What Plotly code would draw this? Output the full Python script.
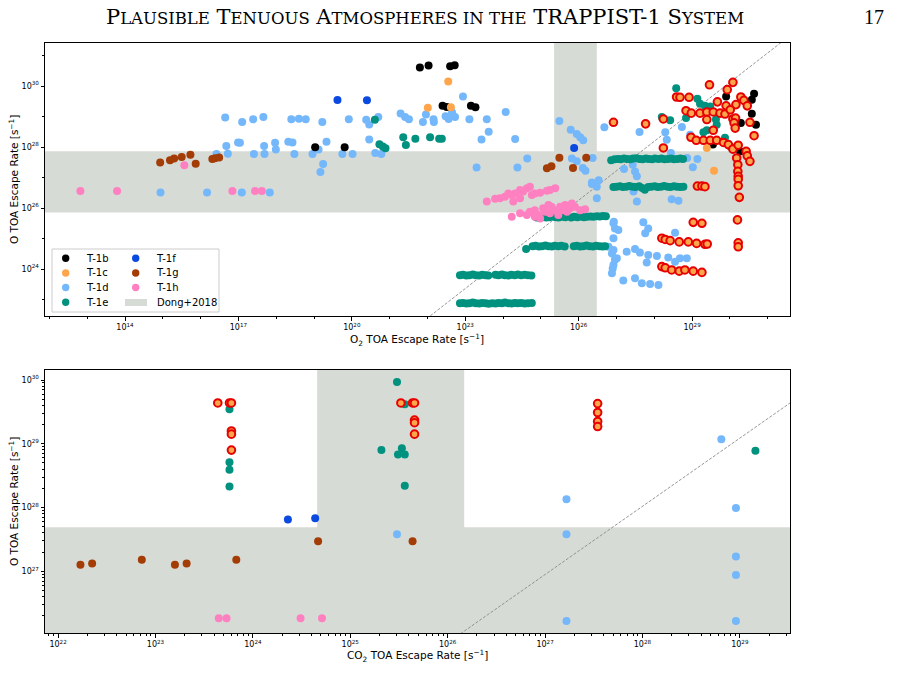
import numpy as np
import plotly.graph_objects as go

W, H = 906, 697

# ---------------- DATA (log10 of escape rates) ----------------
# Top panel: (log10 O2 TOA escape rate, log10 O TOA escape rate)
T1B_TOP = [(21.80, 30.61), (22.03, 30.67), (22.60, 30.65), (22.72, 30.68), (22.40, 29.35),
           (22.51, 29.31), (23.15, 29.35), (23.27, 29.30), (19.03, 27.99), (19.81, 27.99),
           (30.64, 29.75), (30.58, 29.55), (29.90, 29.66), (30.58, 29.09), (30.69, 28.73),
           (30.29, 28.79), (29.55, 28.08), (30.27, 27.86)]
T1C_TOP = [(22.01, 29.29), (22.55, 30.15), (22.62, 29.30), (29.39, 27.97), (29.58, 27.22)]
T1F_TOP = [(19.62, 29.54), (20.40, 29.53), (25.88, 27.97)]
T1G_TOP = [(14.93, 27.49), (15.19, 27.57), (15.30, 27.62), (15.50, 27.67), (15.73, 27.75),
           (15.87, 27.45), (16.31, 27.61), (16.38, 27.63), (16.49, 27.66), (25.49, 27.65),
           (25.16, 27.30), (25.28, 27.37), (25.85, 27.31), (26.20, 27.65)]
T1H_TOP = [(15.57, 27.40), (12.82, 26.56), (13.79, 26.56), (16.84, 26.56), (17.44, 26.56), (17.62, 26.56)]
T1H_TOP_UPPER = [(23.57, 26.21), (23.79, 26.30), (24.05, 26.37), (24.23, 26.43), (24.32, 26.48),
                 (24.45, 26.59), (24.63, 26.65), (24.71, 26.70), (24.27, 26.21), (24.45, 26.32),
                 (24.76, 26.43), (24.98, 26.50), (25.16, 26.57), (25.38, 26.65), (23.92, 26.32),
                 (24.14, 26.48), (24.53, 26.54), (24.84, 26.48), (25.24, 26.59)]
T1H_TOP_LOWER = [(24.23, 25.71), (24.45, 25.83), (24.71, 25.88), (24.84, 25.93), (24.93, 25.77),
                 (25.06, 25.99), (25.20, 26.10), (25.38, 25.93), (25.51, 26.04), (25.64, 26.10),
                 (25.82, 26.15), (25.90, 26.04), (26.04, 25.93), (26.17, 25.96), (25.24, 25.83),
                 (25.46, 25.77), (25.69, 25.88), (24.98, 25.66), (24.63, 25.77), (25.11, 25.88),
                 (25.55, 25.93), (25.77, 25.99), (25.28, 26.04), (24.84, 25.71)]
T1E_TOP = [(20.61, 28.89), (20.73, 28.09), (20.82, 28.02), (20.89, 27.96), (21.36, 28.32),
           (21.43, 28.07), (21.68, 28.27), (22.07, 28.32), (22.31, 28.27), (22.38, 28.27),
           (28.58, 29.93), (29.14, 29.58), (29.21, 29.42), (29.34, 29.35), (29.48, 29.33),
           (28.20, 28.98), (28.42, 28.88), (28.84, 28.95), (29.63, 28.90), (29.65, 28.73),
           (29.30, 28.48), (29.39, 28.55), (29.87, 28.30), (30.01, 28.02)]
T1E_TOP_ROW_A = [(26.86, 27.57), (26.95, 27.60), (27.04, 27.61), (27.11, 27.60), (27.20, 27.62),
                 (27.28, 27.61), (27.37, 27.60), (27.44, 27.62), (27.53, 27.63), (27.61, 27.61),
                 (27.69, 27.60), (27.78, 27.62), (27.85, 27.61), (27.94, 27.60), (28.02, 27.62),
                 (28.11, 27.61), (28.19, 27.62), (28.27, 27.60), (28.36, 27.61), (28.44, 27.62),
                 (28.52, 27.60), (28.61, 27.61), (28.69, 27.62), (28.76, 27.61)]
T1E_TOP_ROW_B = [(26.92, 26.69), (27.00, 26.70), (27.09, 26.71), (27.17, 26.69), (27.26, 26.70),
                 (27.34, 26.72), (27.43, 26.70), (27.51, 26.69), (27.60, 26.71), (27.68, 26.66),
                 (27.75, 26.60), (27.84, 26.69), (27.92, 26.70), (28.01, 26.71), (28.09, 26.69),
                 (28.18, 26.70), (28.26, 26.72), (28.35, 26.70), (28.43, 26.69), (28.52, 26.71),
                 (28.60, 26.70), (28.69, 26.69), (28.77, 26.70)]
T1E_TOP_ROW_C = [(24.89, 25.69), (24.97, 25.70), (25.05, 25.71), (25.14, 25.69), (25.22, 25.70),
                 (25.31, 25.72), (25.39, 25.70), (25.47, 25.69), (25.56, 25.71), (25.65, 25.70),
                 (25.80, 25.69), (25.88, 25.71), (25.97, 25.70), (26.05, 25.72), (26.14, 25.70),
                 (26.22, 25.71), (26.31, 25.72), (26.39, 25.71), (26.48, 25.73), (26.56, 25.72),
                 (26.64, 25.74), (26.72, 25.73)]
T1E_TOP_ROW_D = [(24.61, 24.66), (24.78, 24.75), (24.86, 24.76), (24.95, 24.74), (25.03, 24.75),
                 (25.12, 24.77), (25.20, 24.75), (25.29, 24.74), (25.37, 24.76), (25.46, 24.75),
                 (25.54, 24.76), (25.63, 24.74), (25.87, 24.75), (25.95, 24.76), (26.04, 24.74),
                 (26.12, 24.75), (26.21, 24.77), (26.29, 24.75), (26.38, 24.74), (26.46, 24.76),
                 (26.55, 24.75), (26.63, 24.74), (26.70, 24.75)]
T1E_TOP_ROW_E = [(22.86, 23.80), (22.94, 23.81), (23.03, 23.79), (23.11, 23.80), (23.20, 23.82),
                 (23.28, 23.80), (23.37, 23.79), (23.45, 23.81), (23.54, 23.80), (23.61, 23.79),
                 (23.80, 23.81), (23.88, 23.80), (23.97, 23.82), (24.05, 23.80), (24.14, 23.79),
                 (24.22, 23.81), (24.31, 23.80), (24.39, 23.82), (24.48, 23.80), (24.57, 23.81),
                 (24.66, 23.80), (24.75, 23.79)]
T1E_TOP_ROW_F = [(22.86, 22.88), (22.94, 22.89), (23.03, 22.87), (23.11, 22.88), (23.20, 22.90),
                 (23.28, 22.88), (23.37, 22.87), (23.45, 22.89), (23.54, 22.88), (23.62, 22.86),
                 (23.71, 22.88), (23.80, 22.87), (23.88, 22.89), (23.97, 22.88), (24.05, 22.90),
                 (24.14, 22.88), (24.22, 22.87), (24.31, 22.89), (24.39, 22.88), (24.48, 22.89),
                 (24.57, 22.87), (24.66, 22.88), (24.76, 22.89)]
T1D_TOP = [(16.65, 28.97), (17.10, 28.82), (16.68, 28.03), (16.99, 28.15), (16.42, 27.77), (16.72, 27.78),
           (14.94, 26.51), (16.17, 26.51), (17.09, 26.51), (17.83, 26.51),
           (17.39, 28.91), (17.66, 28.98), (18.40, 28.91), (18.60, 28.93), (18.78, 28.91), (19.22, 28.82),
           (19.92, 28.91), (20.38, 28.89), (20.46, 28.74), (20.70, 28.98), (21.29, 29.10), (21.41, 28.98),
           (21.51, 28.91), (21.88, 28.82), (22.16, 28.91), (22.17, 28.82), (21.96, 29.07),
           (17.04, 28.14), (17.68, 28.03), (17.97, 28.14), (17.99, 27.92), (18.32, 28.17), (18.43, 28.15),
           (19.33, 28.17), (19.12, 27.92), (20.46, 28.25),
           (17.41, 27.77), (17.69, 27.77), (18.48, 27.77), (18.96, 27.77), (19.75, 27.77), (20.02, 27.77),
           (20.62, 27.80), (20.78, 27.77), (19.24, 27.44), (19.17, 27.18),
           (22.94, 29.66), (22.48, 29.01), (22.56, 28.92), (22.65, 29.14), (22.73, 28.98), (23.11, 28.91),
           (23.57, 28.91), (23.62, 28.50), (23.43, 28.25), (24.07, 29.15), (24.32, 28.26),
           (25.49, 28.85), (25.79, 28.57), (25.95, 28.43), (26.04, 28.32), (26.12, 28.22), (26.68, 28.65),
           (23.30, 27.33), (24.38, 27.33), (24.64, 27.62), (25.82, 27.62), (25.95, 27.53), (26.11, 27.31),
           (26.18, 27.22), (26.37, 27.64), (26.35, 26.84), (26.53, 26.91), (26.35, 26.79), (26.48, 26.70),
           (26.48, 26.32),
           (26.92, 25.50), (26.96, 25.33), (26.92, 25.01), (26.79, 24.73), (26.88, 24.51), (26.96, 24.30),
           (26.90, 24.02), (26.88, 23.86),
           (27.61, 28.49), (28.29, 28.48), (28.33, 28.24), (28.73, 28.66), (28.95, 28.40), (28.44, 27.80),
           (28.87, 27.64), (29.14, 27.61), (29.02, 27.34),
           (27.20, 27.28), (27.43, 27.42), (27.49, 27.20), (27.54, 27.04), (27.45, 26.54), (27.54, 26.21),
           (28.46, 26.29), (28.64, 26.24),
           (26.93, 25.55), (27.05, 25.28), (27.71, 25.53), (27.84, 25.33), (27.76, 25.17), (28.55, 25.19),
           (26.92, 24.62), (27.01, 24.35), (27.27, 24.57), (27.49, 24.66), (27.62, 24.54), (27.84, 24.46),
           (28.07, 24.43), (28.37, 24.38), (28.68, 24.35), (28.86, 24.35), (27.80, 24.21), (28.55, 24.24),
           (26.92, 24.13),
           (27.18, 23.62), (27.49, 23.70), (27.67, 23.53), (27.89, 23.51), (28.11, 23.48)]
# points drawn with a red edge (orange fill)
HILITE_TOP = [(26.92, 28.81), (27.77, 28.76), (28.24, 28.92), (29.46, 30.04), (30.08, 30.12), (29.93, 29.88),
              (28.59, 29.64), (28.68, 29.63), (28.92, 29.63), (29.67, 29.48), (29.90, 29.35), (30.16, 29.39),
              (30.29, 29.64), (30.37, 29.53), (30.46, 29.35), (28.84, 29.19), (28.98, 29.11), (29.21, 29.11),
              (29.39, 29.15), (29.56, 29.15), (29.74, 29.11), (29.87, 29.08), (30.01, 29.22), (30.08, 28.92),
              (30.15, 28.95), (29.39, 28.90), (30.11, 28.79), (30.14, 28.62), (30.53, 28.81), (30.64, 28.37),
              (28.24, 27.97), (28.97, 28.32), (29.11, 28.22), (29.30, 28.22), (29.48, 28.22), (29.65, 28.22),
              (29.83, 28.15), (29.96, 28.08), (30.08, 27.93), (30.22, 28.06), (29.56, 28.55), (30.43, 27.86),
              (30.46, 27.71), (30.53, 27.53), (30.18, 27.64), (30.21, 27.42), (30.21, 27.20), (30.22, 27.04),
              (30.22, 26.94), (30.22, 26.73), (30.25, 26.35), (30.20, 25.61), (30.22, 24.86), (30.22, 24.73),
              (29.14, 26.72), (29.26, 26.72), (29.34, 26.70), (29.03, 25.53), (29.26, 25.50),
              (28.20, 25.01), (28.29, 24.97), (28.42, 24.93), (28.66, 24.89), (28.90, 24.89), (29.12, 24.84),
              (29.34, 24.81), (29.40, 24.82),
              (28.20, 24.08), (28.29, 24.04), (28.46, 23.97), (28.66, 23.93), (28.81, 23.97), (29.03, 23.93),
              (29.26, 23.89)]

# Bottom panel: (log10 CO2 TOA escape rate, log10 O TOA escape rate)
T1D_BOT = [(28.81, 29.07), (27.22, 28.13), (28.96, 27.99), (27.22, 27.58), (28.96, 27.23),
           (28.96, 26.94), (27.22, 26.22), (28.96, 26.22), (25.48, 27.58)]
T1E_BOT = [(23.76, 29.54), (23.76, 28.71), (23.76, 28.59), (23.76, 28.33), (25.48, 29.97), (25.56, 29.62),
           (25.32, 28.90), (25.53, 28.93), (25.49, 28.83), (25.56, 28.83), (25.56, 28.34), (29.16, 28.89)]
T1F_BOT = [(24.36, 27.81), (24.64, 27.83)]
T1G_BOT = [(22.23, 27.10), (22.35, 27.12), (22.86, 27.18), (23.20, 27.10), (23.32, 27.12),
           (23.83, 27.18), (24.67, 27.47), (25.64, 27.47)]
T1H_BOT = [(23.65, 26.26), (23.73, 26.26), (24.49, 26.26), (24.71, 26.26)]
HILITE_BOT = [(23.64, 29.64), (23.76, 29.64), (23.78, 29.64), (23.78, 29.20), (23.78, 29.15), (23.78, 28.90),
              (25.52, 29.64), (25.64, 29.64), (25.66, 29.64), (25.66, 29.37), (25.66, 29.33), (25.66, 29.15),
              (27.54, 29.63), (27.54, 29.49), (27.54, 29.35), (27.54, 29.27)]

# Dong+2018 ranges (log10)
DONG_TOP_O = (25.85, 27.86)
DONG_TOP_O2 = (25.35, 26.48)
DONG_BOT_O = (25.0, 27.69)
DONG_BOT_CO2 = (24.66, 26.17)

# reference dashed lines (log10 endpoints)
LINE_TOP = [(21.5, 21.91), (31.7, 31.76)]
LINE_BOT = [(25.9, 25.77), (29.6, 29.73)]

# axis ranges (log10)
TOP_XR, TOP_YR = (11.884, 31.59), (22.46, 31.41)
BOT_XR, BOT_YR = (21.866, 29.515), (26.03, 30.157)

TOP_X_TICKS = [14, 17, 20, 23, 26, 29]
TOP_Y_TICKS = [24, 26, 28, 30]
BOT_X_TICKS = [22, 23, 24, 25, 26, 27, 28, 29]
BOT_Y_TICKS = [27, 28, 29, 30]

COL = {"T-1b": "#000000", "T-1c": "#ffa64d", "T-1d": "#74b8fb", "T-1e": "#00917f",
       "T-1f": "#0a4ae0", "T-1g": "#a33c05", "T-1h": "#ff80c0"}
BAND = "#d7dbd5"
HI_FILL, HI_EDGE = "#fca64b", "#e60000"
FONT = "DejaVu Sans"


def xy(pairs):
    a = np.array(pairs, dtype=float)
    return np.power(10.0, a[:, 0]), np.power(10.0, a[:, 1])


fig = go.Figure()


def band(xr, yr, xb, yb, xa, ya):
    # horizontal + vertical band as filled polygons
    x = [10 ** (xr[0] - 1), 10 ** (xr[1] + 1), 10 ** (xr[1] + 1), 10 ** (xr[0] - 1), 10 ** (xr[0] - 1), None,
         10 ** xb[0], 10 ** xb[1], 10 ** xb[1], 10 ** xb[0], 10 ** xb[0]]
    y = [10 ** yb[0], 10 ** yb[0], 10 ** yb[1], 10 ** yb[1], 10 ** yb[0], None,
         10 ** (yr[0] - 1), 10 ** (yr[0] - 1), 10 ** (yr[1] + 1), 10 ** (yr[1] + 1), 10 ** (yr[0] - 1)]
    fig.add_trace(go.Scatter(x=x, y=y, mode="lines", fill="toself", fillcolor=BAND,
                             line=dict(width=0, color=BAND), hoverinfo="skip",
                             showlegend=False, xaxis=xa, yaxis=ya))


band(TOP_XR, TOP_YR, DONG_TOP_O2, DONG_TOP_O, "x", "y")
band(BOT_XR, BOT_YR, DONG_BOT_CO2, DONG_BOT_O, "x2", "y2")

for line, xa, ya in [(LINE_TOP, "x", "y"), (LINE_BOT, "x2", "y2")]:
    lx, ly = xy(line)
    fig.add_trace(go.Scatter(x=lx, y=ly, mode="lines", line=dict(color="#8a8a8a", width=0.9, dash="3px,1.6px"),
                             showlegend=False, hoverinfo="skip", xaxis=xa, yaxis=ya))


def dots(pairs, color, xa, ya, hi=False):
    px, py = xy(pairs)
    if hi:
        marker = dict(size=7.6, color=HI_FILL, line=dict(color=HI_EDGE, width=2))
    else:
        marker = dict(size=8, color=color, line=dict(width=0))
    fig.add_trace(go.Scatter(x=px, y=py, mode="markers", marker=marker, showlegend=False,
                             xaxis=xa, yaxis=ya))


# top panel
dots(T1D_TOP, COL["T-1d"], "x", "y")
for rows in [T1E_TOP, T1E_TOP_ROW_A, T1E_TOP_ROW_B, T1E_TOP_ROW_C, T1E_TOP_ROW_D, T1E_TOP_ROW_E, T1E_TOP_ROW_F]:
    dots(rows, COL["T-1e"], "x", "y")
dots(T1G_TOP, COL["T-1g"], "x", "y")
dots(T1H_TOP + T1H_TOP_UPPER + T1H_TOP_LOWER, COL["T-1h"], "x", "y")
dots(T1F_TOP, COL["T-1f"], "x", "y")
dots(T1B_TOP, COL["T-1b"], "x", "y")
dots(T1C_TOP, COL["T-1c"], "x", "y")
dots(HILITE_TOP, None, "x", "y", hi=True)

# bottom panel
dots(T1D_BOT, COL["T-1d"], "x2", "y2")
dots(T1E_BOT, COL["T-1e"], "x2", "y2")
dots(T1G_BOT, COL["T-1g"], "x2", "y2")
dots(T1H_BOT, COL["T-1h"], "x2", "y2")
dots(T1F_BOT, COL["T-1f"], "x2", "y2")
dots(HILITE_BOT, None, "x2", "y2", hi=True)


def sup(e):
    return "10<sup>%d</sup>" % e


def axis(domain, rng, ticks, minor_vals, anchor):
    return dict(type="log", domain=domain, range=list(rng), anchor=anchor,
                showline=True, linecolor="black", linewidth=1, mirror=True,
                ticks="outside", ticklen=3.5, tickwidth=0.8, tickcolor="black",
                tickvals=[10.0 ** t for t in ticks], ticktext=[sup(t) for t in ticks],
                tickfont=dict(family=FONT, size=8, color="black"),
                minor=dict(tickvals=minor_vals, ticks="outside", ticklen=2, tickwidth=0.6, tickcolor="black"),
                showgrid=False, zeroline=False, fixedrange=True)


top_minor_x = [10.0 ** d for d in range(12, 32) if d not in TOP_X_TICKS]
top_minor_y = [10.0 ** d for d in range(23, 32) if d not in TOP_Y_TICKS]
bot_minor_x = [k * 10.0 ** d for d in range(21, 30) for k in range(2, 10)]
bot_minor_y = [k * 10.0 ** d for d in range(26, 31) for k in range(2, 10)]

XD = [45 / W, 790 / W]
fig.update_layout(
    width=W, height=H, margin=dict(l=0, r=0, t=0, b=0, pad=0),
    paper_bgcolor="white", plot_bgcolor="white", showlegend=False,
    xaxis=axis(XD, TOP_XR, TOP_X_TICKS, top_minor_x, "y"),
    yaxis=axis([1 - 316 / H, 1 - 43 / H], TOP_YR, TOP_Y_TICKS, top_minor_y, "x"),
    xaxis2=axis(XD, BOT_XR, BOT_X_TICKS, bot_minor_x, "y2"),
    yaxis2=axis([1 - 633 / H, 1 - 370 / H], BOT_YR, BOT_Y_TICKS, bot_minor_y, "x2"),
)

ann = []
shapes = []


def P(px, py):
    return px / W, 1 - py / H


def text(px, py, s, size, xanchor="center", angle=0, family=FONT):
    x, y = P(px, py)
    ann.append(dict(x=x, y=y, xref="paper", yref="paper", text=s, showarrow=False,
                    xanchor=xanchor, yanchor="middle", textangle=angle,
                    font=dict(family=family, size=size, color="black")))


# axis titles
text(417, 340, "O<sub>2</sub> TOA Escape Rate [s<sup>\u22121</sup>]", 10.5)
text(13, 180, "O TOA Escape Rate [s<sup>\u22121</sup>]", 10.5, angle=-90)
text(417, 656, "CO<sub>2</sub> TOA Escape Rate [s<sup>\u22121</sup>]", 10.5)
text(13, 502, "O TOA Escape Rate [s<sup>\u22121</sup>]", 10.5, angle=-90)

# page header (small caps)
SC = "<span style='font-size:16.5px'>%s</span>"
header = ("P" + SC % "LAUSIBLE" + " T" + SC % "ENUOUS" + " A" + SC % "TMOSPHERES IN THE" +
          " TRAPPIST-1 S" + SC % "YSTEM")
text(104, 17, header, 21, xanchor="left", family="DejaVu Serif")
text(886, 17, "17", 20, xanchor="right", family="Liberation Serif")

# legend (drawn manually to match the compact layout)
x0, y0 = P(52, 249)
x1, y1 = P(219, 312)
shapes.append(dict(type="rect", xref="paper", yref="paper", x0=x0, y0=y1, x1=x1, y1=y0,
                   line=dict(color="#cccccc", width=1), fillcolor="rgba(255,255,255,0.8)"))
LEG = [("T-1b", 65.7, 258.3), ("T-1c", 65.7, 273.0), ("T-1d", 65.7, 287.5), ("T-1e", 65.7, 302.3),
       ("T-1f", 135.7, 258.3), ("T-1g", 135.7, 273.0), ("T-1h", 135.7, 287.5)]
r = 3.7
for name, cx, cy in LEG:
    a0, b0 = P(cx - r, cy + r)
    a1, b1 = P(cx + r, cy - r)
    shapes.append(dict(type="circle", xref="paper", yref="paper", x0=a0, y0=b0, x1=a1, y1=b1,
                       fillcolor=COL[name], line=dict(width=0)))
    text(cx + 18, cy, name, 10, xanchor="left")
a0, b0 = P(125, 306)
a1, b1 = P(147, 299)
shapes.append(dict(type="rect", xref="paper", yref="paper", x0=a0, y0=b0, x1=a1, y1=b1,
                   fillcolor=BAND, line=dict(width=0)))
text(155, 302.3, "Dong+2018", 10, xanchor="left")

fig.update_layout(annotations=ann, shapes=shapes)
fig.write_html("out.html")
